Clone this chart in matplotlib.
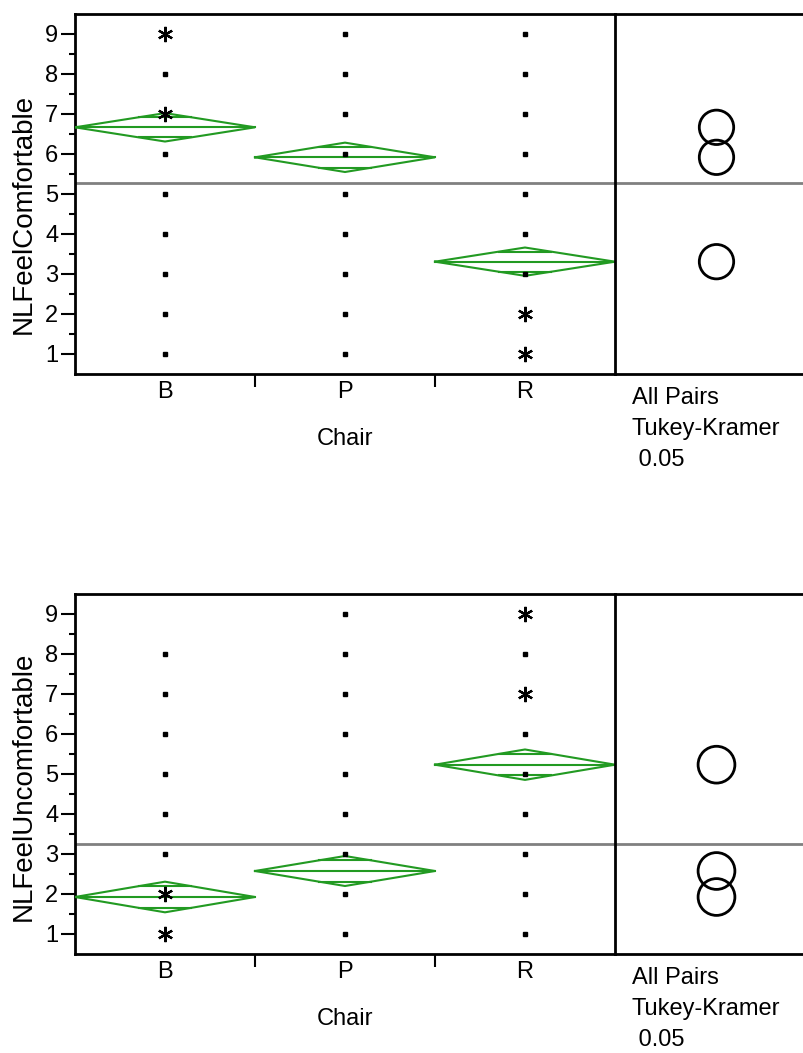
import matplotlib
matplotlib.use("Agg")
import matplotlib.pyplot as plt
from matplotlib.patches import Ellipse
from matplotlib.transforms import offset_copy
import numpy as np

plt.rcParams['font.family'] = ['Liberation Sans', 'DejaVu Sans']

# ---- data -------------------------------------------------------------
categories = ["B", "P", "R"]

# NLFeelComfortable
comf_dots = [[1, 2, 3, 4, 5, 6, 8],
             [1, 2, 3, 4, 5, 6, 7, 8, 9],
             [3, 4, 5, 6, 7, 8, 9]]
comf_stars = [[7, 9], [], [1, 2]]
comf_means = [6.667, 5.917, 3.308]
comf_ci = [0.355, 0.367, 0.354]
comf_grand = 5.275
comf_radius = [0.43, 0.43, 0.43]

# NLFeelUncomfortable
unc_dots = [[3, 4, 5, 6, 7, 8],
            [1, 2, 3, 4, 5, 6, 7, 8, 9],
            [1, 2, 3, 4, 5, 6, 8]]
unc_stars = [[1, 2], [], [7, 9]]
unc_means = [1.925, 2.575, 5.233]
unc_ci = [0.383, 0.375, 0.380]
unc_grand = 3.255
unc_radius = [0.46, 0.46, 0.46]

y_ticks = [1, 2, 3, 4, 5, 6, 7, 8, 9]
panel_text = ["All Pairs", "Tukey-Kramer", " 0.05"]

# ---- style ------------------------------------------------------------
W, H = 804, 1053
GREEN = "#229a22"
GRAY = "#808080"
FS = 17
FS_YLABEL = 20

fig = plt.figure(figsize=(W / 100, H / 100), dpi=100)


def px_box(left, top, right, bottom):
    return [left / W, 1 - bottom / H, (right - left) / W, (bottom - top) / H]


def below(ax, px):
    """Transform: x in data, y = px pixels below the bottom spine."""
    return offset_copy(ax.get_xaxis_transform(), fig=fig, x=0, y=-px * 72 / 100,
                       units="points")


def draw_panel(top, bottom, ylabel, ylabel_y, dots, stars, means, ci, grand, radius):
    ax = fig.add_axes(px_box(75, top, 615, bottom))
    axc = fig.add_axes(px_box(615, top, W, bottom))
    n = len(categories)
    ax.set_xlim(0, n)
    ax.set_ylim(0.5, 9.5)
    axc.set_xlim(0, 1)
    axc.set_ylim(0.5, 9.5)

    for i in range(n):
        c = i + 0.5
        # raw points
        ax.plot([c] * len(dots[i]), dots[i], ls="none", marker="s",
                ms=2.5, color="black", zorder=4)
        if stars[i]:
            ax.plot([c] * len(stars[i]), stars[i], ls="none", marker=(6, 2, 0),
                    ms=11, mew=1.6, color="black", zorder=4)
        # means diamond with overlap marks
        m, h = means[i], ci[i]
        ax.plot([i, c, i + 1, c, i], [m, m + h, m, m - h, m],
                color=GREEN, lw=1.5, zorder=3, solid_joinstyle="miter")
        ax.plot([i, i + 1], [m, m], color=GREEN, lw=1.5, zorder=3)
        off = h / np.sqrt(2)
        hw = 0.5 * (1 - 1 / np.sqrt(2))
        for s in (1, -1):
            ax.plot([c - hw, c + hw], [m + s * off] * 2, color=GREEN, lw=1.5, zorder=3)

    for a in (ax, axc):
        a.axhline(grand, color=GRAY, lw=2, zorder=2)

    # axes styling
    ax.set_yticks(y_ticks)
    ax.set_yticks(np.arange(1.5, 9.5, 1), minor=True)
    ax.tick_params(axis="y", which="major", length=10, width=1.5, pad=2,
                   labelsize=FS, direction="out")
    ax.tick_params(axis="y", which="minor", length=4, width=1.5, direction="out")
    ax.set_xticks(np.arange(1, n))
    ax.set_xticklabels([])
    ax.tick_params(axis="x", length=9, width=1.5, direction="out")
    for i, cat in enumerate(categories):
        ax.text(i + 0.5, 0, cat, transform=below(ax, 24),
                ha="center", va="baseline", fontsize=FS)
    ax.text(n / 2, 0, "Chair", transform=below(ax, 71),
            ha="center", va="baseline", fontsize=FS)
    for sp in ax.spines.values():
        sp.set_linewidth(2)
    ax.spines["right"].set_visible(False)

    for sp in axc.spines.values():
        sp.set_linewidth(2)
    axc.spines["right"].set_visible(False)
    axc.set_xticks([])
    axc.set_yticks([])

    # comparison circles
    fig.canvas.draw()
    bb = axc.get_window_extent()
    px_per_x = bb.width / 1.0
    px_per_y = bb.height / 9.0
    for i in range(n):
        r = radius[i]
        axc.add_patch(Ellipse((0.537, means[i]), 2 * r * px_per_y / px_per_x, 2 * r,
                              fill=False, ec="black", lw=2, zorder=4))

    for k, t in enumerate(panel_text):
        axc.text(17 / 189, 0, t, transform=below(axc, 30 + 31 * k),
                 ha="left", va="baseline", fontsize=FS)

    fig.text(24 / W, 1 - ylabel_y / H, ylabel, rotation=90,
             ha="center", va="center", fontsize=FS_YLABEL)


draw_panel(14, 374, "NLFeelComfortable", 214, comf_dots, comf_stars,
           comf_means, comf_ci, comf_grand, comf_radius)
draw_panel(594, 954, "NLFeelUncomfortable", 786, unc_dots, unc_stars,
           unc_means, unc_ci, unc_grand, unc_radius)

fig.savefig("out.png", dpi=100)
